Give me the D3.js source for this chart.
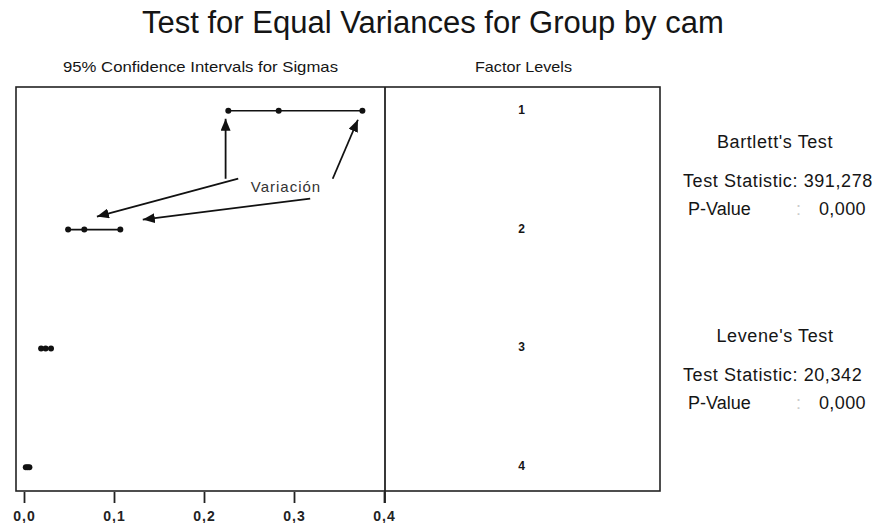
<!DOCTYPE html>
<html>
<head>
<meta charset="utf-8">
<script src="https://cdn.jsdelivr.net/npm/d3@7"></script>
<style>
  html, body { margin: 0; padding: 0; background: #fff; }
  text { font-family: "Liberation Sans", Arial, sans-serif; fill: #151515; }
</style>
</head>
<body>
<div id="chart"></div>
<script>
// factor levels and the 95% CI for sigma (lower, estimate, upper)
var levels = ['1', '2', '3', '4'];
var lower = [0.227, 0.049, 0.019, 0.002];
var sigma = [0.283, 0.067, 0.024, 0.004];
var upper = [0.376, 0.107, 0.030, 0.006];
var xTicks = [0, 0.1, 0.2, 0.3, 0.4];

// test results
var testNames = ["Bartlett's Test", "Levene's Test"];
var testStats = ['391,278', '20,342'];
var pValues = ['0,000', '0,000'];

var width = 872, height = 523;
var plotTop = 87, plotBottom = 491;

var svg = d3.select('#chart')
    .append('svg')
    .attr('width', width)
    .attr('height', height);

var x = d3.scaleLinear().domain([0, 0.4]).range([24, 384]);
var y = d3.scalePoint().domain(levels).range([plotTop, plotBottom]).padding(0.2);
var boxLeft = x(0) - 8, boxMid = x(0.4) + 1, boxRight = 660;
var comma = function(v) { return d3.format('.1f')(v).replace('.', ','); };

// titles
svg.append('text')
    .attr('x', 142).attr('y', 33)
    .style('font-size', '31px')
    .text('Test for Equal Variances for Group by cam');

svg.append('text')
    .attr('x', (boxLeft + boxMid) / 2).attr('y', 72)
    .attr('text-anchor', 'middle')
    .style('font-size', '15px')
    .attr('textLength', 275).attr('lengthAdjust', 'spacingAndGlyphs')
    .text('95% Confidence Intervals for Sigmas');

svg.append('text')
    .attr('x', (boxMid + boxRight) / 2 + 1).attr('y', 72)
    .attr('text-anchor', 'middle')
    .style('font-size', '15px')
    .attr('textLength', 97).attr('lengthAdjust', 'spacingAndGlyphs')
    .text('Factor Levels');

// frames
svg.append('rect')
    .attr('x', boxLeft).attr('y', plotTop)
    .attr('width', boxRight - boxLeft).attr('height', plotBottom - plotTop)
    .style('fill', 'none').style('stroke', '#222').style('stroke-width', 1.6);
svg.append('line')
    .attr('x1', boxMid).attr('x2', boxMid)
    .attr('y1', plotTop).attr('y2', plotBottom + 12)
    .style('stroke', '#222').style('stroke-width', 1.8);

// x axis
var axis = svg.append('g')
    .attr('transform', 'translate(0,' + (plotBottom + 1) + ')')
    .call(d3.axisBottom(x).tickValues(xTicks).tickSize(11).tickPadding(8).tickFormat(comma));
axis.select('.domain').remove();
axis.selectAll('line').style('stroke', '#222').style('stroke-width', 1.8);
axis.selectAll('text')
    .style('font-family', '"Liberation Sans", Arial, sans-serif')
    .style('font-size', '14px').style('font-weight', 'bold')
    .style('letter-spacing', '1px').style('fill', '#222');

// intervals
var rows = levels.map(function(d, i) {
    return {level: d, lo: lower[i], mid: sigma[i], hi: upper[i]};
});
var row = svg.selectAll('.ci').data(rows).enter().append('g').attr('class', 'ci');
row.append('line')
    .attr('x1', function(d) { return x(d.lo); })
    .attr('x2', function(d) { return x(d.hi); })
    .attr('y1', function(d) { return y(d.level); })
    .attr('y2', function(d) { return y(d.level); })
    .style('stroke', '#111').style('stroke-width', 1.6);
row.selectAll('circle')
    .data(function(d) { return [d.lo, d.mid, d.hi].map(function(v) { return {v: v, level: d.level}; }); })
    .enter().append('circle')
    .attr('cx', function(d) { return x(d.v); })
    .attr('cy', function(d) { return y(d.level); })
    .attr('r', 3)
    .style('fill', '#111');

// factor level labels
svg.selectAll('.lvl').data(levels).enter().append('text')
    .attr('x', (boxMid + boxRight) / 2 - 1)
    .attr('y', function(d) { return y(d) + 3; })
    .attr('text-anchor', 'middle')
    .style('font-size', '12px').style('font-weight', 'bold')
    .text(function(d) { return d; });

// "Variación" annotation
svg.append('defs').append('marker')
    .attr('id', 'head')
    .attr('viewBox', '0 0 12 10')
    .attr('refX', 12).attr('refY', 5)
    .attr('markerWidth', 12).attr('markerHeight', 10)
    .attr('markerUnits', 'userSpaceOnUse')
    .attr('orient', 'auto')
    .append('path').attr('d', 'M0,0 L12,5 L0,10 Z').style('fill', '#111');

var y1 = y('1'), y2 = y('2');
var arrows = [
    {x1: 0.224, y1: y1 + 68, x2: 0.224, y2: y1 + 8},
    {x1: 0.343, y1: y1 + 68, x2: 0.371, y2: y1 + 9},
    {x1: 0.238, y1: y2 - 51, x2: 0.081, y2: y2 - 13},
    {x1: 0.318, y1: y2 - 31, x2: 0.132, y2: y2 - 10}
];
svg.selectAll('.arrow').data(arrows).enter().append('line')
    .attr('x1', function(d) { return x(d.x1); })
    .attr('y1', function(d) { return d.y1; })
    .attr('x2', function(d) { return x(d.x2); })
    .attr('y2', function(d) { return d.y2; })
    .attr('marker-end', 'url(#head)')
    .style('stroke', '#111').style('stroke-width', 1.8);

svg.append('text')
    .attr('x', 286).attr('y', 192)
    .attr('text-anchor', 'middle')
    .style('font-size', '15px').style('fill', '#333')
    .style('letter-spacing', '1px')
    .text('Variación');

// test result blocks
var blockY = [148, 342];
var block = svg.selectAll('.test').data(testNames).enter().append('g')
    .attr('transform', function(d, i) { return 'translate(0,' + blockY[i] + ')'; });
block.append('text')
    .attr('x', 775).attr('y', 0)
    .attr('text-anchor', 'middle')
    .style('font-size', '18px').style('letter-spacing', '0.6px')
    .text(function(d) { return d; });
block.append('text')
    .attr('x', 683).attr('y', 39)
    .style('font-size', '18px').style('letter-spacing', '0.6px')
    .text(function(d, i) { return 'Test Statistic: ' + testStats[i]; });
block.append('text')
    .attr('x', 688).attr('y', 67)
    .style('font-size', '18px')
    .text('P-Value');
block.append('text')
    .attr('x', 796).attr('y', 67)
    .style('font-size', '18px').style('fill', '#ccc')
    .text(':');
block.append('text')
    .attr('x', 866).attr('y', 67)
    .attr('text-anchor', 'end')
    .style('font-size', '18px').style('letter-spacing', '0.4px')
    .text(function(d, i) { return pValues[i]; });
</script>
</body>
</html>
